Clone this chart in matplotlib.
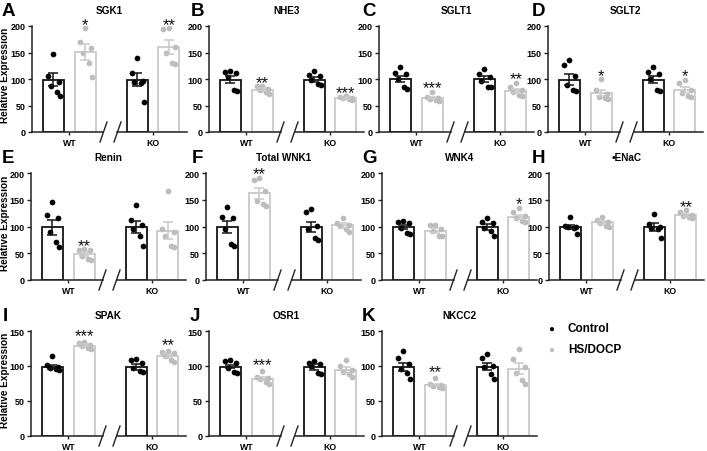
import matplotlib
matplotlib.use("Agg")
import matplotlib.pyplot as plt
from matplotlib.lines import Line2D

plt.rcParams['font.family'] = ['Liberation Sans', 'DejaVu Sans']
plt.rcParams['font.weight'] = 'bold'

# ---------------- data ----------------
groups = ["WT", "KO"]
series = ["Control", "HS/DOCP"]

titles = ["SGK1", "NHE3", "SGLT1", "SGLT2", "Renin", "Total WNK1", "WNK4",
          "\u2022ENaC", "SPAK", "OSR1", "NKCC2"]
letters = ["A", "B", "C", "D", "E", "F", "G", "H", "I", "J", "K"]

# order of bars: WT Control, WT HS/DOCP, KO Control, KO HS/DOCP
SGK1_means = [99, 151, 99, 161]
SGK1_sems = [13, 15, 12, 13]
SGK1_pts = [[147, 105, 95, 86, 75, 68], [196, 170, 158, 150, 131, 103],
            [139, 112, 97, 94, 92, 56], [196, 195, 160, 150, 130, 128]]
SGK1_stars = ["*", "**"]

NHE3_means = [99, 80, 99, 64]
NHE3_sems = [6, 3, 4, 1.5]
NHE3_pts = [[115, 113, 112, 103, 80, 78], [87, 86, 82, 80, 75, 71],
            [115, 108, 106, 98, 90, 89], [68, 66, 65, 64, 62, 61]]
NHE3_stars = ["**", "***"]

SGLT1_means = [100, 64, 100, 78]
SGLT1_sems = [6, 2.5, 6, 4]
SGLT1_pts = [[122, 112, 110, 100, 84, 82], [76, 66, 65, 63, 60, 59],
             [119, 110, 103, 97, 85, 84], [93, 84, 80, 76, 70, 68]]
SGLT1_stars = ["***", "**"]

SGLT2_means = [99, 73, 99, 79]
SGLT2_sems = [10, 6, 7, 6]
SGLT2_pts = [[136, 126, 105, 88, 80, 78], [100, 80, 72, 66, 64, 62],
             [123, 113, 110, 100, 80, 78], [99, 92, 80, 74, 67, 66]]
SGLT2_stars = ["*", "*"]

Renin_means = [99, 48, 99, 92]
Renin_sems = [14, 4, 11, 16]
Renin_pts = [[145, 122, 116, 89, 71, 62], [58, 57, 56, 45, 39, 38],
             [141, 113, 103, 96, 82, 64], [166, 95, 89, 82, 64, 62]]
Renin_stars = ["**", ""]

WNK1_means = [99, 162, 99, 102]
WNK1_sems = [12, 10, 10, 4]
WNK1_pts = [[137, 117, 115, 96, 68, 63], [191, 186, 167, 148, 142, 138],
            [132, 128, 101, 96, 78, 75], [116, 106, 103, 101, 96, 90]]
WNK1_stars = ["**", ""]

WNK4_means = [99, 92, 99, 118]
WNK4_sems = [4, 5, 5, 4]
WNK4_pts = [[110, 109, 106, 97, 88, 86], [103, 102, 95, 91, 83, 82],
            [116, 108, 106, 98, 92, 83], [135, 128, 120, 115, 110, 108]]
WNK4_stars = ["", "*"]

ENaC_means = [99, 108, 99, 121]
ENaC_sems = [4, 3, 7, 3]
ENaC_pts = [[117, 101, 100, 99, 97, 86], [117, 112, 108, 107, 101, 100],
            [123, 104, 100, 98, 96, 79], [130, 128, 122, 120, 117, 115]]
ENaC_stars = ["", "**"]

SPAK_means = [99, 129, 99, 114]
SPAK_sems = [3, 2, 4, 3]
SPAK_pts = [[115, 102, 98, 97, 96, 95], [134, 133, 130, 128, 126, 124],
            [110, 108, 105, 97, 93, 92], [121, 120, 119, 114, 108, 106]]
SPAK_stars = ["***", "**"]

OSR1_means = [99, 82, 99, 94]
OSR1_sems = [2.5, 2, 4, 4]
OSR1_pts = [[108, 107, 105, 97, 92, 90], [93, 84, 83, 82, 77, 74],
            [107, 105, 103, 100, 90, 89], [108, 100, 95, 92, 88, 85]]
OSR1_stars = ["***", ""]

NKCC2_means = [99, 73, 99, 96]
NKCC2_sems = [6, 2, 5, 8]
NKCC2_pts = [[121, 112, 103, 96, 90, 82], [83, 75, 73, 72, 70, 68],
             [117, 111, 100, 98, 88, 81], [125, 110, 98, 90, 80, 75]]
NKCC2_stars = ["**", ""]

ymax_rows = [200, 200, 150]
yticks_rows = [[0, 50, 100, 150, 200], [0, 50, 100, 150, 200], [0, 50, 100, 150]]

panel_data = [
    (SGK1_means, SGK1_sems, SGK1_pts, SGK1_stars),
    (NHE3_means, NHE3_sems, NHE3_pts, NHE3_stars),
    (SGLT1_means, SGLT1_sems, SGLT1_pts, SGLT1_stars),
    (SGLT2_means, SGLT2_sems, SGLT2_pts, SGLT2_stars),
    (Renin_means, Renin_sems, Renin_pts, Renin_stars),
    (WNK1_means, WNK1_sems, WNK1_pts, WNK1_stars),
    (WNK4_means, WNK4_sems, WNK4_pts, WNK4_stars),
    (ENaC_means, ENaC_sems, ENaC_pts, ENaC_stars),
    (SPAK_means, SPAK_sems, SPAK_pts, SPAK_stars),
    (OSR1_means, OSR1_sems, OSR1_pts, OSR1_stars),
    (NKCC2_means, NKCC2_sems, NKCC2_pts, NKCC2_stars),
]

# ---------------- layout ----------------
W, H = 707, 452
fig = plt.figure(figsize=(W / 100, H / 100), dpi=100)

row_lefts = [[32, 209, 379, 548], [31, 206, 382, 549], [31, 209, 382]]
row_bottom = [133, 281, 437]
row_top = [27, 174, 332]
letter_x = [[2, 191, 362, 532], [2, 192, 362, 532], [3, 190, 362]]
panel_w = 155

xpos = [0.0, 1.0, 2.62, 3.6]
bar_w = 0.66
xlim = (-0.67, 4.17)
jitter = [0.0, -0.18, 0.18, -0.09, 0.1, 0.2]

ctrl_edge = '#151515'
ctrl_dot = '#000000'
hs_edge = '#c9c9c9'
hs_dot = '#bcbcbc'

idx = 0
for r in range(3):
    for c, left in enumerate(row_lefts[r]):
        means, sems, pts, stars = panel_data[idx]
        bottom = row_bottom[r]
        top = row_top[r]
        ax = fig.add_axes([left / W, 1 - bottom / H, panel_w / W, (bottom - top) / H])
        for k in range(4):
            is_ctrl = (k % 2 == 0)
            ec = ctrl_edge if is_ctrl else hs_edge
            dc = ctrl_dot if is_ctrl else hs_dot
            ax.bar(xpos[k], means[k], width=bar_w, color='white', edgecolor=ec,
                   linewidth=1.3, zorder=2)
            xs = [xpos[k] + jitter[j] for j in range(len(pts[k]))]
            ax.scatter(xs, pts[k], s=17, color=dc, zorder=3, linewidths=0)
            ax.errorbar(xpos[k], means[k], yerr=sems[k], color=ec, capsize=3.5,
                        elinewidth=1.1, capthick=1.1, zorder=4)
            if not is_ctrl:
                s = stars[k // 2]
                if s:
                    ytop = max(max(pts[k]), means[k] + sems[k])
                    ax.annotate(s, xy=(xpos[k], ytop + 18), xytext=(0, -7.5),
                                textcoords='offset points', ha='center',
                                va='baseline', fontsize=12, fontweight='normal',
                                color='#111111', annotation_clip=False)
        ax.set_xlim(*xlim)
        ax.set_ylim(0, ymax_rows[r])
        ax.set_yticks(yticks_rows[r])
        ax.set_xticks([(xpos[0] + xpos[1]) / 2, (xpos[2] + xpos[3]) / 2])
        ax.set_xticklabels(groups)
        ax.tick_params(axis='y', length=3, width=1, labelsize=6.5, pad=1.5,
                       color='#222222')
        ax.tick_params(axis='x', length=2.5, width=1, labelsize=6.3, pad=1.5,
                       color='#222222')
        for lab in ax.get_xticklabels() + ax.get_yticklabels():
            lab.set_fontweight('bold')
        ax.spines['top'].set_visible(False)
        ax.spines['right'].set_visible(False)
        ax.spines['bottom'].set_visible(False)
        ax.spines['left'].set_linewidth(1.1)
        ax.spines['left'].set_color('#222222')
        # broken x-axis
        ppx = 1.0 / panel_w
        ppy = 1.0 / (bottom - top)
        bc = 78.5 * ppx
        g = 7 * ppx
        ax.add_line(Line2D([0, bc - g], [0, 0], transform=ax.transAxes,
                           color='#222222', lw=1.1, clip_on=False))
        ax.add_line(Line2D([bc + g, 1], [0, 0], transform=ax.transAxes,
                           color='#222222', lw=1.1, clip_on=False))
        for cx in (bc - g, bc + g):
            ax.add_line(Line2D([cx - 3.5 * ppx, cx + 3.5 * ppx],
                               [-10 * ppy, 10 * ppy], transform=ax.transAxes,
                               color='#222222', lw=1.0, clip_on=False))
        ax.set_title(titles[idx], fontsize=7.2, fontweight='bold', pad=9.5)
        if c == 0:
            ax.set_ylabel("Relative Expression", fontsize=7.2, fontweight='bold')
            ax.yaxis.set_label_coords((10 - left) / panel_w, 0.54)
        fig.text(letter_x[r][c] / W, 1 - (top - 24) / H, letters[idx],
                 fontsize=13.5, fontweight='bold', va='top', ha='left')
        idx += 1

# legend
fig.text(551 / W, 1 - 329 / H, "\u25CF", color=ctrl_dot, fontsize=7,
         ha='center', va='center')
fig.text(551 / W, 1 - 350 / H, "\u25CF", color=hs_dot, fontsize=7,
         ha='center', va='center')
fig.text(568 / W, 1 - 329 / H, series[0], fontsize=8.5, fontweight='bold',
         ha='left', va='center')
fig.text(568 / W, 1 - 350 / H, series[1], fontsize=8.5, fontweight='bold',
         ha='left', va='center')

fig.savefig("out.png", dpi=100)
